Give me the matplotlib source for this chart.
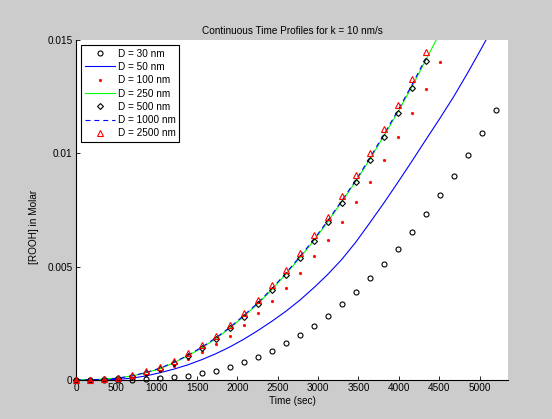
import matplotlib
matplotlib.use("Agg")
import matplotlib.pyplot as plt

# Sample times (sec)
time_s = [0, 173.3, 346.7, 520, 693.3, 866.7, 1040, 1213.3, 1386.7, 1560,
          1733.3, 1906.7, 2080, 2253.3, 2426.7, 2600, 2773.3, 2946.7, 3120,
          3293.3, 3466.7, 3640, 3813.3, 3986.7, 4160, 4333.3, 4506.7, 4680,
          4853.3, 5026.7, 5200]

# [ROOH] (Molar) for each particle diameter
rooh_30 = [0, 0, 0, 0, 0.00001, 0.00003, 0.00007, 0.00012, 0.00019, 0.00029,
           0.00041, 0.00057, 0.00078, 0.00103, 0.00129, 0.00162, 0.00197,
           0.00239, 0.00283, 0.00335, 0.00389, 0.00448, 0.00511, 0.00580,
           0.00652, 0.00731, 0.00814, 0.00900, 0.00993, 0.01088, 0.01191]

rooh_50 = [0, 0, 0.00001, 0.00003, 0.00008, 0.00018, 0.00032, 0.00048, 0.00067,
           0.00090, 0.00116, 0.00146, 0.00180, 0.00218, 0.00259, 0.00303,
           0.00352, 0.00407, 0.00466, 0.00532, 0.00608, 0.00693, 0.00780,
           0.00871, 0.00964, 0.01059, 0.01153, 0.01250, 0.01355, 0.01465,
           0.01578]

rooh_100 = [0, 0, 0.00001, 0.00004, 0.00010, 0.00022, 0.00040, 0.00063, 0.00091,
            0.00122, 0.00157, 0.00195, 0.00244, 0.00294, 0.00349, 0.00408,
            0.00474, 0.00545, 0.00618, 0.00699, 0.00784, 0.00875, 0.00970,
            0.01070, 0.01176, 0.01285, 0.01401]

rooh_250 = [0, 0.00001, 0.00004, 0.00009, 0.00018, 0.00032, 0.00050, 0.00076,
            0.00107, 0.00142, 0.00183, 0.00229, 0.00281, 0.00336, 0.00399,
            0.00467, 0.00539, 0.00615, 0.00698, 0.00786, 0.00876, 0.00973,
            0.01076, 0.01181, 0.01292, 0.01411, 0.01530]

rooh_500 = [0, 0.00001, 0.00003, 0.00008, 0.00017, 0.00031, 0.00049, 0.00075,
            0.00106, 0.00141, 0.00182, 0.00228, 0.00280, 0.00334, 0.00397,
            0.00465, 0.00537, 0.00612, 0.00695, 0.00783, 0.00872, 0.00969,
            0.01072, 0.01177, 0.01288, 0.01407]

rooh_1000 = [0, 0.00001, 0.00003, 0.00008, 0.00018, 0.00033, 0.00052, 0.00078,
             0.00109, 0.00145, 0.00186, 0.00232, 0.00285, 0.00340, 0.00403,
             0.00471, 0.00544, 0.00620, 0.00703, 0.00791, 0.00881, 0.00979,
             0.01082, 0.01188, 0.01300, 0.01419]

rooh_2500 = [0, 0.00001, 0.00003, 0.00009, 0.00021, 0.00039, 0.00059, 0.00085,
             0.00117, 0.00154, 0.00195, 0.00242, 0.00295, 0.00353, 0.00418,
             0.00486, 0.00560, 0.00638, 0.00721, 0.00810, 0.00903, 0.01001,
             0.01106, 0.01215, 0.01328, 0.01448]

labels = ["D = 30 nm", "D = 50 nm", "D = 100 nm", "D = 250 nm",
          "D = 500 nm", "D = 1000 nm", "D = 2500 nm"]

x_ticks = [0, 500, 1000, 1500, 2000, 2500, 3000, 3500, 4000, 4500, 5000]
y_ticks = [0, 0.005, 0.01, 0.015]
y_ticklabels = ["0", "0.005", "0.01", "0.015"]

plt.rcParams["font.family"] = ["Liberation Sans", "DejaVu Sans"]
fs = 7.2
plt.rcParams["font.size"] = fs

W, H = 552, 419
fig = plt.figure(figsize=(W / 100, H / 100), dpi=100, facecolor="#cccccc")
ax = fig.add_axes([76 / W, 1 - 380 / H, 432 / W, 340 / H])
ax.set_facecolor("white")

lw = 0.8
ax.plot(time_s[:len(rooh_30)], rooh_30, linestyle="none", marker="o",
        ms=3.6, mfc="none", mec="black", mew=0.8, label=labels[0],
        clip_on=False, zorder=3)
ax.plot(time_s[:len(rooh_50)], rooh_50, color="blue", lw=lw, label=labels[1])
ax.plot(time_s[:len(rooh_100)], rooh_100, linestyle="none", marker="o",
        ms=2.0, mfc="red", mec="red", mew=0.3, label=labels[2],
        clip_on=False, zorder=3)
ax.plot(time_s[:len(rooh_250)], rooh_250, color="#00ff00", lw=lw,
        label=labels[3])
ax.plot(time_s[:len(rooh_500)], rooh_500, linestyle="none", marker="D",
        ms=3.0, mfc="none", mec="black", mew=0.8, label=labels[4],
        clip_on=False, zorder=3)
ax.plot(time_s[:len(rooh_1000)], rooh_1000, color="blue", lw=lw,
        dashes=(4.5, 3.5), label=labels[5])
ax.plot(time_s[:len(rooh_2500)], rooh_2500, linestyle="none", marker="^",
        ms=4.2, mfc="none", mec="red", mew=0.8, label=labels[6],
        clip_on=False, zorder=3)

ax.set_xlim(0, 5353)
ax.set_ylim(0, 0.015)
ax.set_xticks(x_ticks)
ax.set_xticklabels([str(v) for v in x_ticks])
ax.set_yticks(y_ticks)
ax.set_yticklabels(y_ticklabels)

for side in ("top", "right"):
    ax.spines[side].set_visible(False)
for side in ("left", "bottom"):
    ax.spines[side].set_linewidth(0.8)
    ax.spines[side].set_color("black")
ax.tick_params(direction="in", length=3, width=0.6, pad=2.5,
               labelsize=fs, colors="black")

ax.set_xlabel("Time (sec)", fontsize=fs, labelpad=2)
ax.set_ylabel("[ROOH] in Molar", fontsize=fs)
ax.yaxis.set_label_coords(-0.086, 0.45)
ax.set_title("Continuous Time Profiles for k = 10 nm/s", fontsize=fs, pad=4)

leg = ax.legend(loc="upper left", bbox_to_anchor=(0.0116, 0.985),
                borderaxespad=0, fontsize=fs, handlelength=3.0,
                handletextpad=0.3, labelspacing=0.33, borderpad=0.35,
                fancybox=False, framealpha=1, edgecolor="black",
                numpoints=1)
leg.get_frame().set_linewidth(0.8)
leg.set_zorder(5)

fig.savefig("out.png", dpi=100, facecolor=fig.get_facecolor())
